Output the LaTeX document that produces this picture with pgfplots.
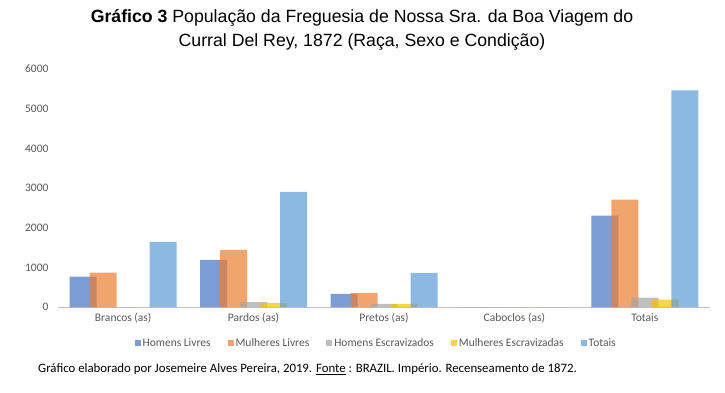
\documentclass[border=0pt]{standalone}
\usepackage{pgfplots}
\pgfplotsset{compat=1.18}
\usepackage{fontspec}
\setmainfont{Carlito}
\newfontfamily\arial{Liberation Sans}
\definecolor{cHL}{HTML}{4472C4}
\definecolor{cML}{HTML}{ED7D31}
\definecolor{cHE}{HTML}{A5A5A5}
\definecolor{cME}{HTML}{FFC000}
\definecolor{cTO}{HTML}{5B9BD5}
\definecolor{tickgray}{RGB}{89,89,89}
\definecolor{axgray}{RGB}{191,191,191}
\begin{document}
\begin{tikzpicture}[x=1pt,y=1pt]
\useasboundingbox (0,0) rectangle (725,392);
\begin{axis}[
  at={(58pt,85pt)}, anchor=south west, scale only axis,
  width=652pt, height=238pt,
  xmin=-0.5, xmax=4.5, ymin=0, ymax=6000,
  axis x line=bottom, axis y line=left,
  x axis line style={-, draw=axgray, line width=0.8pt},
  y axis line style={draw=none},
  major tick length=0pt,
  xtick={0,1,2,3,4},
  xticklabels={Brancos (as), Pardos (as), Pretos (as), Caboclos (as), Totais},
  ytick={0,1000,2000,3000,4000,5000,6000},
  scaled y ticks=false,
  /pgf/number format/assume math mode=true,
  y tick label style={/pgf/number format/1000 sep={}, font=\fontsize{11.5}{13}\selectfont, text=tickgray, xshift=-6pt},
  x tick label style={font=\fontsize{11.5}{13}\selectfont, text=tickgray, yshift=-3pt},
  legend columns=5,
  legend image code/.code={\fill[#1] (0pt,-3pt) rectangle (6pt,3pt);},
  legend style={draw=none, at={(0.488,-0.151)}, anchor=center,
    font=\fontsize{11.5}{12}\selectfont, text=tickgray,
    /tikz/every even column/.append style={column sep=15pt}},
]
\addplot[ybar, bar width=27pt, bar shift=-40pt, fill=cHL, draw=none, fill opacity=0.7]
  coordinates {(0,765) (1,1190) (2,328) (3,0) (4,2306)};
\addlegendentry{Homens Livres}
\addplot[ybar, bar width=27pt, bar shift=-20pt, fill=cML, draw=none, fill opacity=0.7]
  coordinates {(0,865) (1,1440) (2,354) (3,0) (4,2710)};
\addlegendentry{Mulheres Livres}
\addplot[ybar, bar width=27pt, bar shift=0pt, fill=cHE, draw=none, fill opacity=0.7]
  coordinates {(0,0) (1,126) (2,76) (3,0) (4,236)};
\addlegendentry{Homens Escravizados}
\addplot[ybar, bar width=27pt, bar shift=20pt, fill=cME, draw=none, fill opacity=0.7]
  coordinates {(0,0) (1,101) (2,76) (3,0) (4,185)};
\addlegendentry{Mulheres Escravizadas}
\addplot[ybar, bar width=27pt, bar shift=40pt, fill=cTO, draw=none, fill opacity=0.7]
  coordinates {(0,1640) (1,2904) (2,859) (3,0) (4,5463)};
\addlegendentry{Totais}
\end{axis}
\node[align=center, font=\arial\fontsize{17.7}{24}\selectfont] at (362,362)
  {\textbf{Gráfico 3} População da Freguesia de Nossa Sra. da Boa Viagem do\\Curral Del Rey, 1872 (Raça, Sexo e Condição)};
\node[anchor=west, inner sep=0pt, font=\fontsize{12.8}{14}\selectfont] at (38,23)
  {Gráfico elaborado por Josemeire Alves Pereira, 2019. \underline{Fonte} : BRAZIL. Império. Recenseamento de 1872.};
\end{tikzpicture}
\end{document}
